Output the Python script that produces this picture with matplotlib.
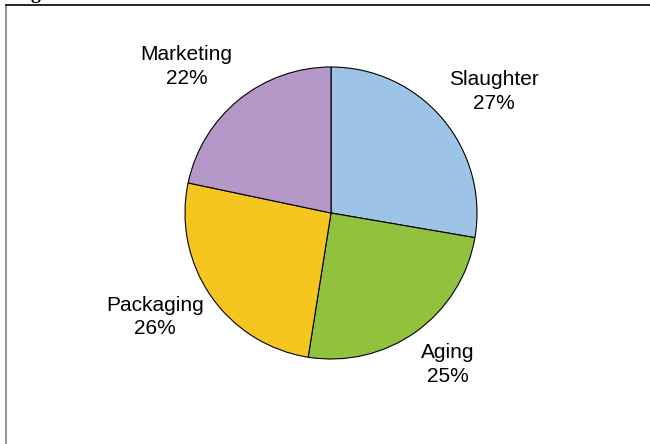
import matplotlib
matplotlib.use("Agg")
import matplotlib.pyplot as plt
import numpy as np
from matplotlib.lines import Line2D

# data
categories = ["Slaughter", "Aging", "Packaging", "Marketing"]
shares = [27.7, 24.8, 25.8, 21.7]
pct_labels = ["27%", "25%", "26%", "22%"]
colors = ["#9DC3E6", "#92C13E", "#F5C620", "#B598C8"]

# label placement (radius multiple and angle nudge in degrees)
label_dist = [1.39, 1.31, 1.40, 1.41]
label_nudge = [-3.5, 2.0, -4.0, 5.5]

W, H = 650, 444
R = 146.0           # pie radius in px
cx, cy = 331, 213   # pie centre in px (from top-left)

plt.rcParams["font.family"] = ["Liberation Sans", "DejaVu Sans"]

fig = plt.figure(figsize=(W / 100, H / 100), dpi=100)
ax = fig.add_axes([0, 0, 1, 1])

wedges, _ = ax.pie(shares, colors=colors, startangle=90, counterclock=False,
                   wedgeprops=dict(edgecolor="black", linewidth=0.8))

for w, cat, pct, d, nudge in zip(wedges, categories, pct_labels, label_dist, label_nudge):
    mid = np.deg2rad((w.theta1 + w.theta2) / 2 + nudge)
    ax.text(d * np.cos(mid), d * np.sin(mid), f"{cat}\n{pct}",
            ha="center", va="center", fontsize=15, linespacing=1.32,
            color="black")

ax.set_aspect("auto")
ax.set_xlim(-cx / R, (W - cx) / R)
ax.set_ylim(-(H - cy) / R, cy / R)
ax.axis("off")

# frame of the original figure box (left and top edges only visible)
x0 = 5.5 / W
y0 = 1 - 5.5 / H
fig.add_artist(Line2D([x0, x0], [0, y0], transform=fig.transFigure,
                      color="#808080", linewidth=1.2))
fig.add_artist(Line2D([x0, 1], [y0, y0], transform=fig.transFigure,
                      color="black", linewidth=1.2))

# cut-off caption fragment at the very top
fig.text(35 / W, 1 + 1.5 / H, "g", ha="center", va="baseline",
         fontsize=14, fontweight="bold", family="Liberation Serif")

fig.savefig("out.png", dpi=100)
